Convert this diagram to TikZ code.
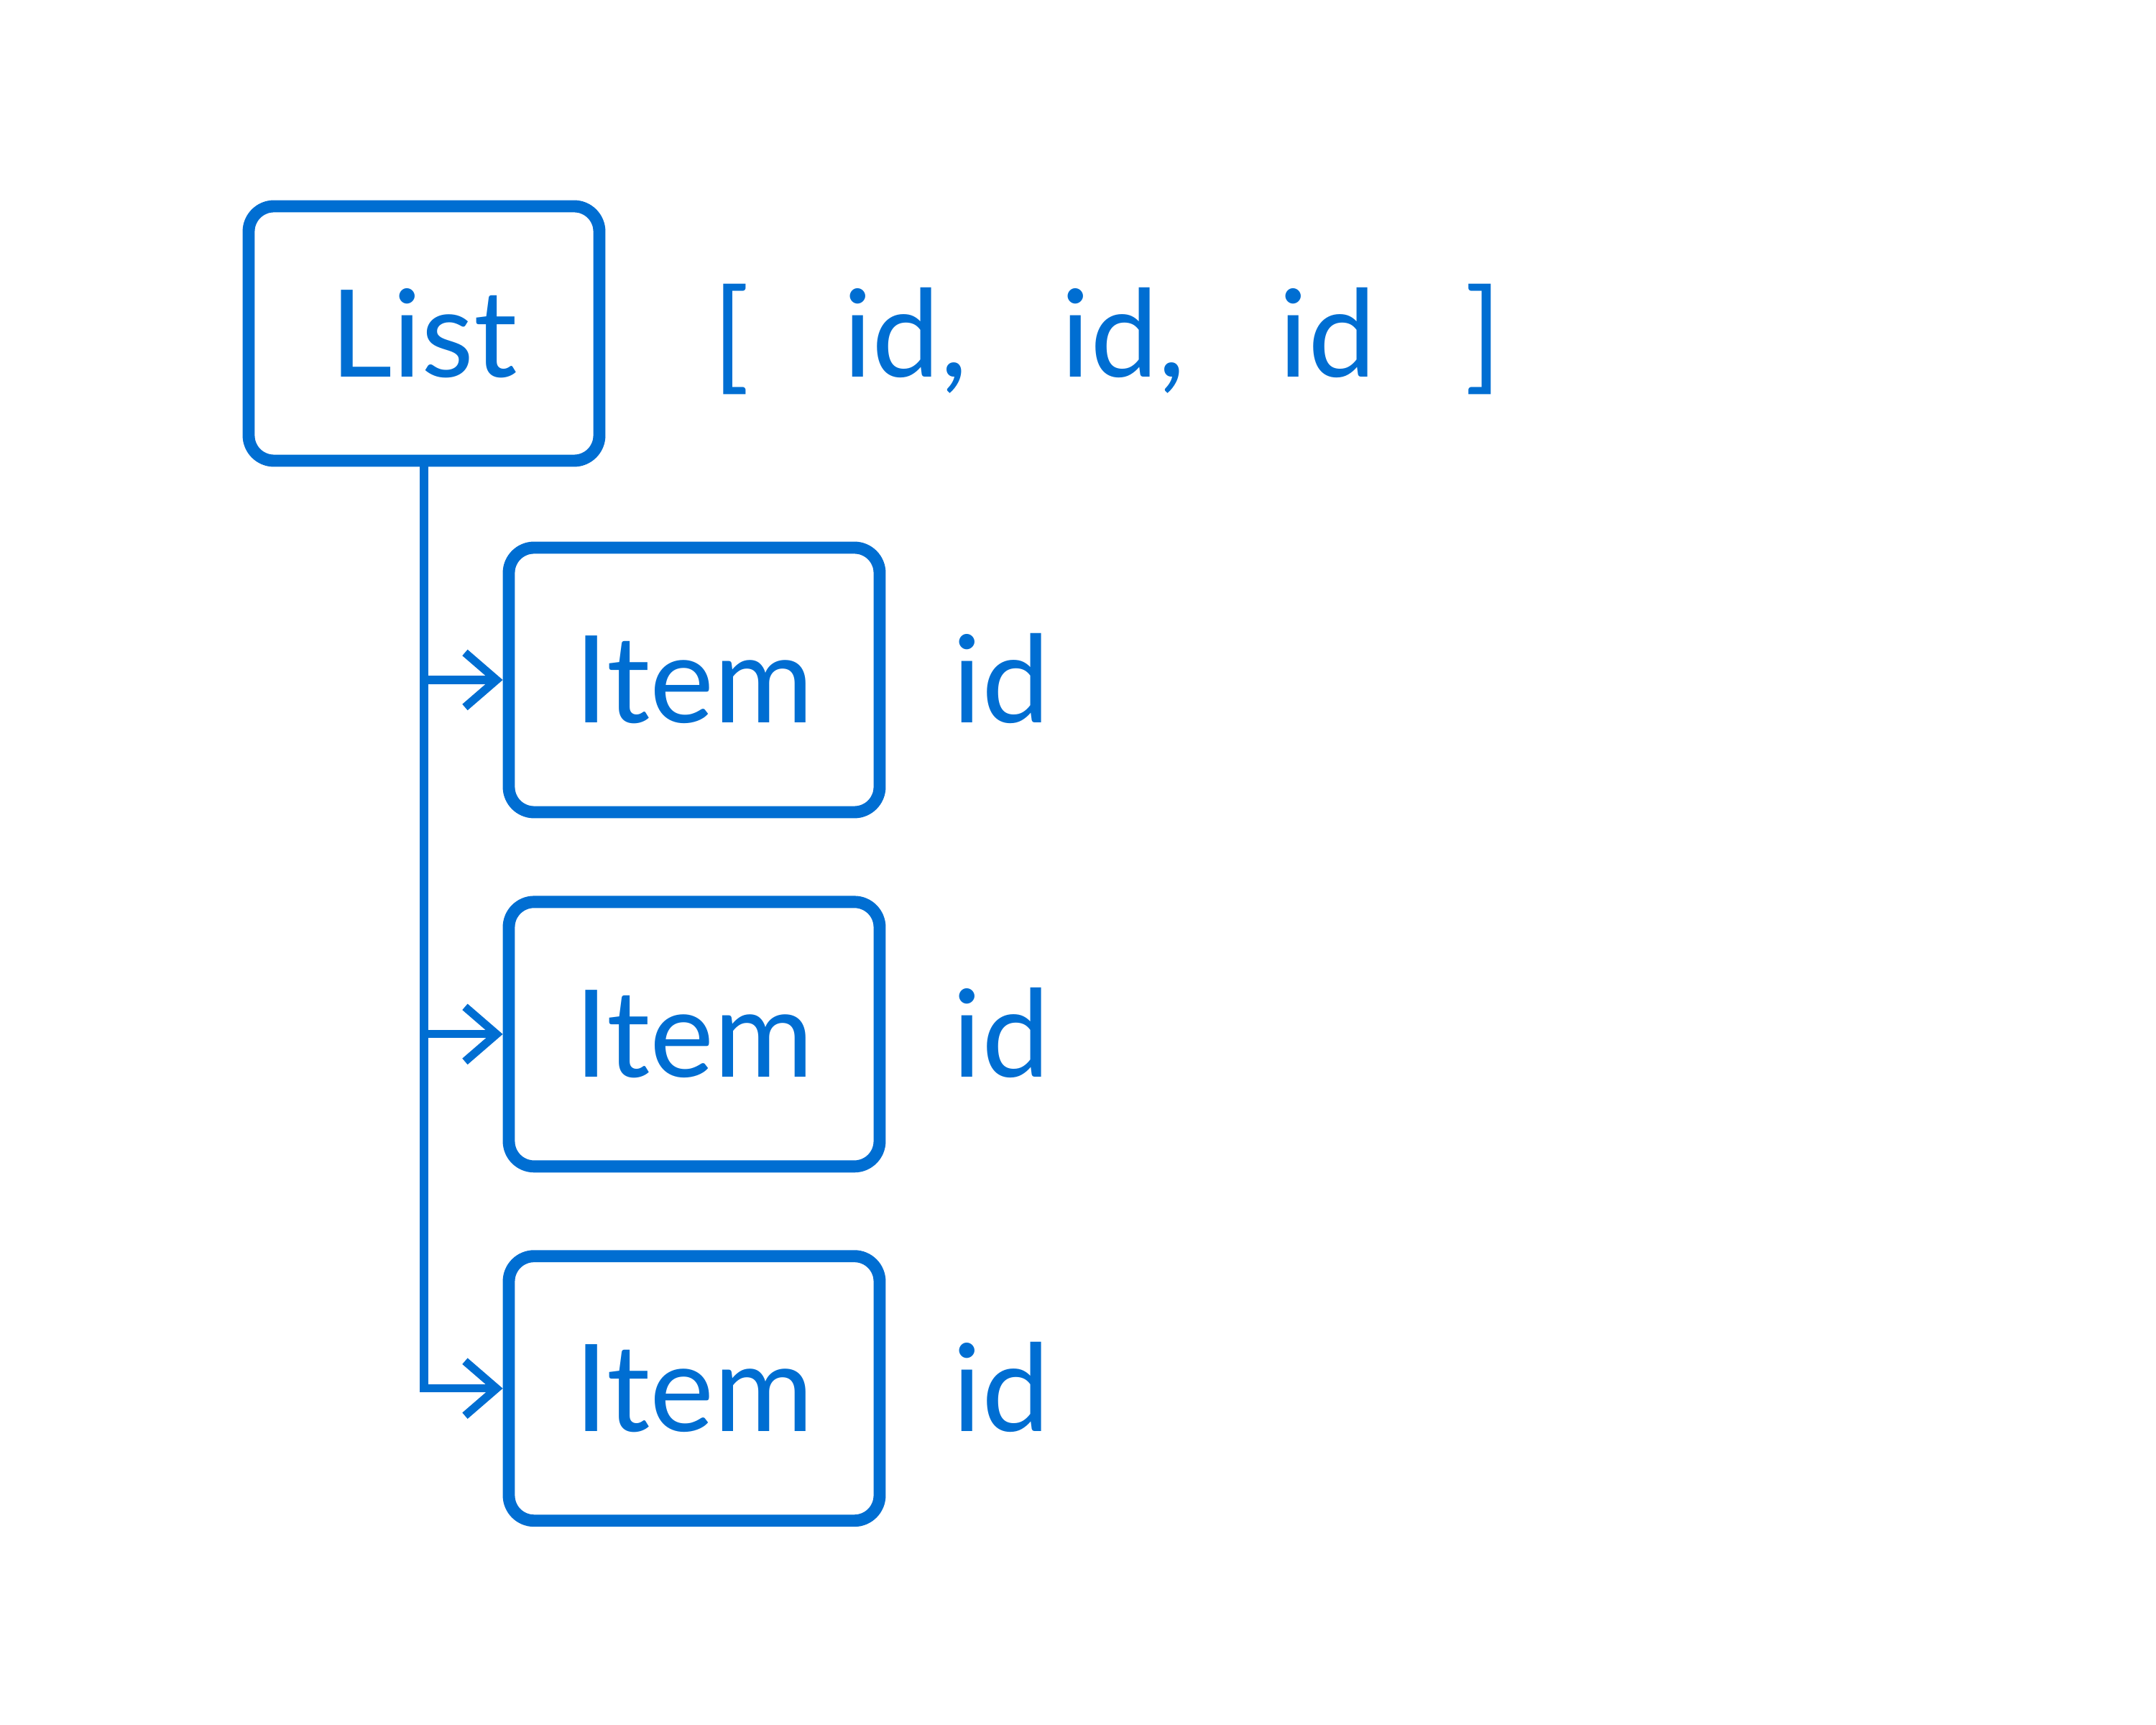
\documentclass[tikz,border=0pt]{standalone}
\usepackage{fontspec}
\setmainfont{Lato}
\usepackage{tikz}
\usetikzlibrary{arrows.meta, positioning}
\definecolor{myblue}{RGB}{0,110,210}
\tikzset{
  listbox/.style={rectangle, draw=myblue, text=myblue,
    minimum width=2.44cm, minimum height=1.77cm,
    rounded corners=5pt, line width=2.4pt},
  itembox/.style={rectangle, draw=myblue, text=myblue,
    minimum width=2.58cm, minimum height=1.84cm,
    rounded corners=5pt, line width=2.4pt},
  idlabel/.style={text=myblue, anchor=base west, inner sep=0pt},
  arrow/.style={-{Straight Barb[length=2.2mm, width=3.8mm]}, line width=1.6pt, color=myblue}
}

\begin{document}
\begin{tikzpicture}[every node/.style={font=\fontsize{24}{28}\selectfont}]
  \useasboundingbox (0,0) rectangle (15,12);

  % List node and its ids
  \node[listbox] (list) at (2.95,9.68) {List};
  \node[idlabel, xshift=0.74cm] (ids) at (list.base east)
    {[\hspace{0.65cm}id,\hspace{0.65cm}id,\hspace{0.65cm}id\hspace{0.62cm}]};

  % Items
  \node[itembox] (item1) at (4.83,7.27) {Item};
  \node[itembox, below=0.54cm of item1] (item2) {Item};
  \node[itembox, below=0.54cm of item2] (item3) {Item};

  \node[idlabel, xshift=0.46cm] (id1) at (item1.base east) {id};
  \node[idlabel, xshift=0.46cm] (id2) at (item2.base east) {id};
  \node[idlabel, xshift=0.46cm] (id3) at (item3.base east) {id};

  % Connections
  \draw[arrow] (list.south) |- (item1.west);
  \draw[arrow] (list.south) |- (item2.west);
  \draw[arrow] (list.south) |- (item3.west);
\end{tikzpicture}
\end{document}
